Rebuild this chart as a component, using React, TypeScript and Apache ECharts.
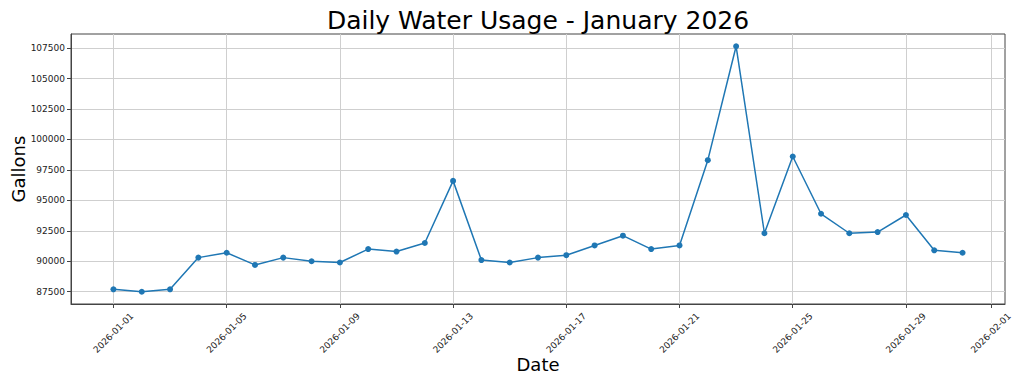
import React, { useEffect, useRef } from "react";
import * as echarts from "echarts";

const TITLE = "Daily Water Usage - January 2026";
const X_LABEL = "Date";
const Y_LABEL = "Gallons";

const dates: string[] = [
  "2026-01-01", "2026-01-02", "2026-01-03", "2026-01-04", "2026-01-05",
  "2026-01-06", "2026-01-07", "2026-01-08", "2026-01-09", "2026-01-10",
  "2026-01-11", "2026-01-12", "2026-01-13", "2026-01-14", "2026-01-15",
  "2026-01-16", "2026-01-17", "2026-01-18", "2026-01-19", "2026-01-20",
  "2026-01-21", "2026-01-22", "2026-01-23", "2026-01-24", "2026-01-25",
  "2026-01-26", "2026-01-27", "2026-01-28", "2026-01-29", "2026-01-30",
  "2026-01-31",
];

const gallons: number[] = [
  87700, 87500, 87700, 90300, 90700,
  89700, 90300, 90000, 89900, 91000,
  90800, 91500, 96600, 90100, 89900,
  90300, 90500, 91300, 92100, 91000,
  91300, 98300, 107650, 92300, 98600,
  93900, 92300, 92400, 93800, 90900,
  90700,
];

const xTickDates: string[] = [
  "2026-01-01", "2026-01-05", "2026-01-09", "2026-01-13", "2026-01-17",
  "2026-01-21", "2026-01-25", "2026-01-29", "2026-02-01",
];

const yTicks: number[] = [87500, 90000, 92500, 95000, 97500, 100000, 102500, 105000, 107500];

const DAY = 86400000;

// days since 2026-01-01
function dayNum(s: string): number {
  const [y, m, d] = s.split("-").map(Number);
  return Math.round((Date.UTC(y, m - 1, d) - Date.UTC(2026, 0, 1)) / DAY);
}

function pad(n: number): string {
  return n < 10 ? "0" + n : String(n);
}

function fmtDay(v: number): string {
  const d = new Date(Date.UTC(2026, 0, 1) + Math.round(v) * DAY);
  return d.getUTCFullYear() + "-" + pad(d.getUTCMonth() + 1) + "-" + pad(d.getUTCDate());
}

export default function App() {
  const ref = useRef<HTMLDivElement>(null);

  useEffect(() => {
    if (!ref.current) return;
    const chart = echarts.init(ref.current, null, { renderer: "svg" });
    const xs = dates.map(dayNum);
    const xMin = xs[0] - 1.5;
    const xMax = xs[xs.length - 1] + 1.5;
    const yMinData = Math.min(...gallons);
    const yMaxData = Math.max(...gallons);
    const span = yMaxData - yMinData;
    const yMin = yMinData - 0.05 * span;
    const yMax = yMaxData + 0.05 * span;
    const font = "DejaVu Sans";
    const xTicks = xTickDates.map(dayNum);
    const spine = "#444";
    const gridColor = "#cfcfcf";

    chart.setOption({
      animation: false,
      backgroundColor: "#ffffff",
      title: {
        text: TITLE,
        left: 533,
        textAlign: "center",
        top: 3,
        textStyle: { fontFamily: font, fontSize: 25, fontWeight: "normal", color: "#000" },
      },
      grid: {
        left: 71,
        right: 19,
        top: 34,
        bottom: 80,
        show: true,
        borderColor: spine,
        borderWidth: 1,
        backgroundColor: "transparent",
        containLabel: false,
        outerBoundsMode: "none",
      },
      xAxis: {
        type: "value",
        min: xMin,
        max: xMax,
        name: X_LABEL,
        nameLocation: "middle",
        nameGap: 51,
        nameMoveOverlap: false,
        nameTextStyle: { fontFamily: font, fontSize: 18, color: "#000" },
        axisLine: { show: true, onZero: false, lineStyle: { color: spine, width: 1 } },
        axisTick: {
          show: true,
          customValues: xTicks,
          length: 4,
          lineStyle: { color: spine, width: 1 },
        },
        axisLabel: {
          customValues: xTicks,
          rotate: 45,
          align: "center",
          verticalAlign: "middle",
          margin: 29,
          fontFamily: font,
          fontSize: 9,
          color: "#222",
          formatter: (v: number) => fmtDay(v),
        },
        splitLine: { show: true, lineStyle: { color: gridColor, width: 1 } },
      },
      yAxis: {
        type: "value",
        min: yMin,
        max: yMax,
        name: Y_LABEL,
        nameLocation: "middle",
        nameGap: 44,
        nameMoveOverlap: false,
        nameTextStyle: { fontFamily: font, fontSize: 18, color: "#000" },
        axisLine: { show: true, onZero: false, lineStyle: { color: spine, width: 1 } },
        axisTick: {
          show: true,
          customValues: yTicks,
          length: 4,
          lineStyle: { color: spine, width: 1 },
        },
        axisLabel: {
          customValues: yTicks,
          margin: 6,
          fontFamily: font,
          fontSize: 9,
          color: "#222",
          formatter: (v: number) => String(v),
        },
        splitLine: { show: true, lineStyle: { color: gridColor, width: 1 } },
      },
      series: [
        {
          type: "line",
          data: dates.map((d, i) => [dayNum(d), gallons[i]]),
          symbol: "circle",
          symbolSize: 6,
          showSymbol: true,
          lineStyle: { color: "#1f77b4", width: 1.5 },
          itemStyle: { color: "#1f77b4" },
        },
      ],
    });

    return () => chart.dispose();
  }, []);

  return (
    <div
      ref={ref}
      style={{ position: "fixed", left: 0, top: 0, width: 1024, height: 384 }}
    />
  );
}
